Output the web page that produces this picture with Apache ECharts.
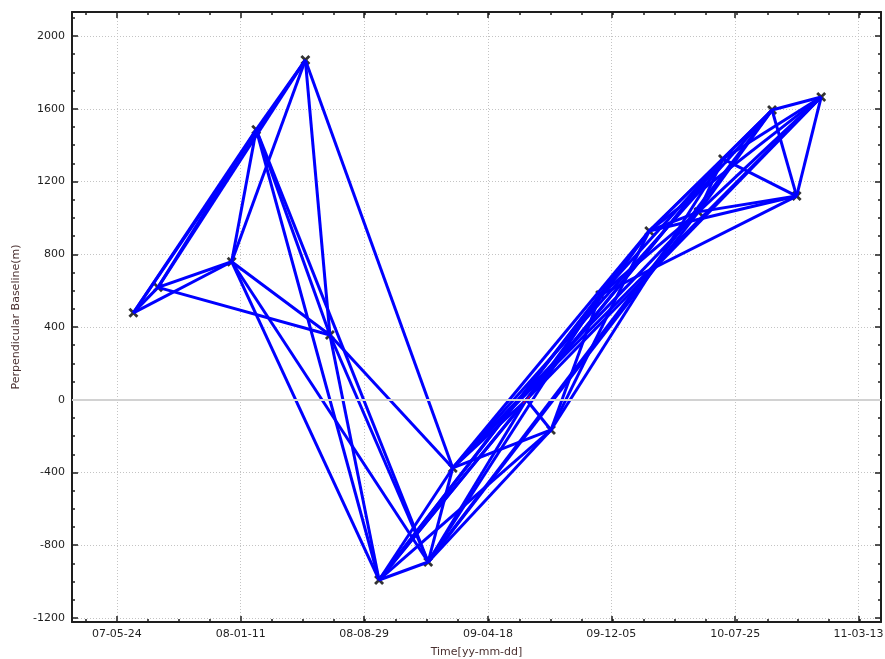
<!DOCTYPE html>
<html><head><meta charset="utf-8">
<script src="https://cdn.jsdelivr.net/npm/echarts@6/dist/echarts.min.js"></script>
<style>html,body{margin:0;padding:0;background:#fff}#c{width:885px;height:659px}</style>
</head><body><div id="c"></div>
<script>
// acquisitions (date, perpendicular baseline in m)
const acqDates = ['2007-06-24','2007-08-09','2007-12-25','2008-02-09','2008-05-11','2008-06-26',
  '2008-09-26','2008-12-27','2009-02-11','2009-06-29','2009-08-14','2009-11-14',
  '2010-02-14','2010-05-17','2010-07-02','2010-10-02','2010-11-17','2011-01-02'];
const acqBaselines = [478, 618, 759, 1485, 1868, 356,
  -991, -892, -375, 0, -166, 576,
  928, 1033, 1324, 1593, 1120, 1665];
const masterIndex = 9;
// interferometric pairs (indices into the acquisition arrays)
const pairs = [
  [0,1],[0,2],[0,3],[0,4],[1,2],[1,3],[1,4],[1,5],[2,3],[2,4],[2,5],[2,6],[2,7],
  [3,4],[3,5],[3,6],[3,7],[4,5],[4,8],[5,6],[5,7],[5,8],
  [6,7],[6,8],[7,8],
  [6,9],[6,10],[6,12],[6,14],[6,11],
  [7,9],[7,10],[7,13],[7,15],[7,11],
  [8,9],[8,10],[8,12],[8,13],[8,15],[8,17],
  [9,10],[9,12],[9,14],[9,17],
  [10,11],[10,12],[10,14],
  [11,13],[11,16],[11,14],
  [12,13],[12,14],[12,15],[12,17],[12,16],
  [13,14],[13,16],[13,17],[13,15],
  [14,15],[14,16],[14,17],
  [15,16],[15,17],[16,17]
];
const xTickDates = ['2007-05-24','2008-01-11','2008-08-29','2009-04-18','2009-12-05','2010-07-25','2011-03-13'];
const xRange = ['2007-03-01','2011-04-24'];
const yTickValues = [-1200,-800,-400,0,400,800,1200,1600,2000];
const yRange = [-1222, 2132];

const ts = s => new Date(s + 'T00:00:00Z').getTime();
const pad = n => (n < 10 ? '0' : '') + n;
const fmt = v => { const d = new Date(v); return pad(d.getUTCFullYear() % 100) + '-' + pad(d.getUTCMonth() + 1) + '-' + pad(d.getUTCDate()); };

const xMin = ts(xRange[0]), xMax = ts(xRange[1]);
const xMajor = xTickDates.map(ts);
const xStep = (xMajor[1] - xMajor[0]) / 4;
const xMinor = [];
for (let v = xMajor[0] - xStep * 4; v <= xMax; v += xStep) if (v >= xMin) xMinor.push(v);
const yMinor = [];
for (let v = -1200; v <= 2100; v += 100) yMinor.push(v);

const T = acqDates.map(ts);
const V = acqBaselines;
const font = 'DejaVu Sans';
const axisCol = '#1e1e1e';
const lineW = 2;

function xAxisDef(pos, major, withLabels) {
  return {
    type: 'value', position: pos, min: xMin, max: xMax,
    axisLine: { show: major, onZero: false, lineStyle: { color: axisCol, width: lineW } },
    axisTick: { show: true, inside: true, length: major ? 6 : 3, customValues: major ? xMajor : xMinor, lineStyle: { color: axisCol, width: 1.5 } },
    axisLabel: withLabels ? { show: true, customValues: xMajor, formatter: fmt, margin: 7, color: axisCol, fontSize: 11, fontFamily: font } : { show: false },
    splitLine: withLabels ? { show: true, lineStyle: { type: [1, 2], color: '#c4c4c4', width: 1 } } : { show: false },
    name: withLabels ? 'Time[yy-mm-dd]' : '', nameLocation: 'middle', nameGap: 25,
    nameTextStyle: { color: '#4a3030', fontSize: 11, fontFamily: font }
  };
}
function yAxisDef(pos, major, withLabels) {
  return {
    type: 'value', position: pos, min: yRange[0], max: yRange[1],
    axisLine: { show: major, onZero: false, lineStyle: { color: axisCol, width: lineW } },
    axisTick: { show: true, inside: true, length: major ? 6 : 3, customValues: major ? yTickValues : yMinor, lineStyle: { color: axisCol, width: 1.5 } },
    axisLabel: withLabels ? { show: true, customValues: yTickValues, formatter: v => String(Math.round(v)), margin: 7, color: axisCol, fontSize: 11, fontFamily: font } : { show: false },
    splitLine: withLabels ? { show: true, lineStyle: { type: [1, 2], color: '#c4c4c4', width: 1 } } : { show: false },
    name: withLabels ? 'Perpendicular Baseline(m)' : '', nameLocation: 'middle', nameGap: 44,
    nameTextStyle: { color: '#4a3030', fontSize: 11, fontFamily: font }
  };
}

const chart = echarts.init(document.getElementById('c'), null, { renderer: 'canvas' });
chart.setOption({
  animation: false,
  backgroundColor: '#fff',
  grid: { left: 72, right: 4, top: 12, bottom: 37, containLabel: false, outerBoundsMode: 'none' },
  xAxis: [xAxisDef('bottom', true, true), xAxisDef('bottom', false, false), xAxisDef('top', true, false), xAxisDef('top', false, false)],
  yAxis: [yAxisDef('left', true, true), yAxisDef('left', false, false), yAxisDef('right', true, false), yAxisDef('right', false, false)],
  series: [
    {
      type: 'scatter', xAxisIndex: 0, yAxisIndex: 0, z: 2, silent: true,
      symbol: 'path://M0,2 L2,0 L5,3 L8,0 L10,2 L7,5 L10,8 L8,10 L5,7 L2,10 L0,8 L3,5 Z',
      symbolSize: 10,
      itemStyle: { color: '#000' },
      data: T.map((t, i) => [t, V[i]]).filter((d, i) => i !== masterIndex),
      markLine: {
        silent: true, symbol: 'none', label: { show: false },
        lineStyle: { color: '#d2d2d2', width: 2, type: 'solid' },
        data: [{ yAxis: 0 }]
      }
    },
    {
      type: 'lines', coordinateSystem: 'cartesian2d', xAxisIndex: 0, yAxisIndex: 0, z: 3, silent: true,
      lineStyle: { color: '#0000ff', width: 3, opacity: 1 },
      data: pairs.map(([a, b]) => ({ coords: [[T[a], V[a]], [T[b], V[b]]] }))
    },
    {
      type: 'scatter', xAxisIndex: 0, yAxisIndex: 0, z: 4, silent: true,
      symbol: 'path://M0,9 L9,0 L10,1 L1,10 Z', symbolSize: 8,
      itemStyle: { color: '#ff0000' },
      data: [[T[masterIndex], V[masterIndex]]]
    }
  ]
});
</script>
</body></html>
